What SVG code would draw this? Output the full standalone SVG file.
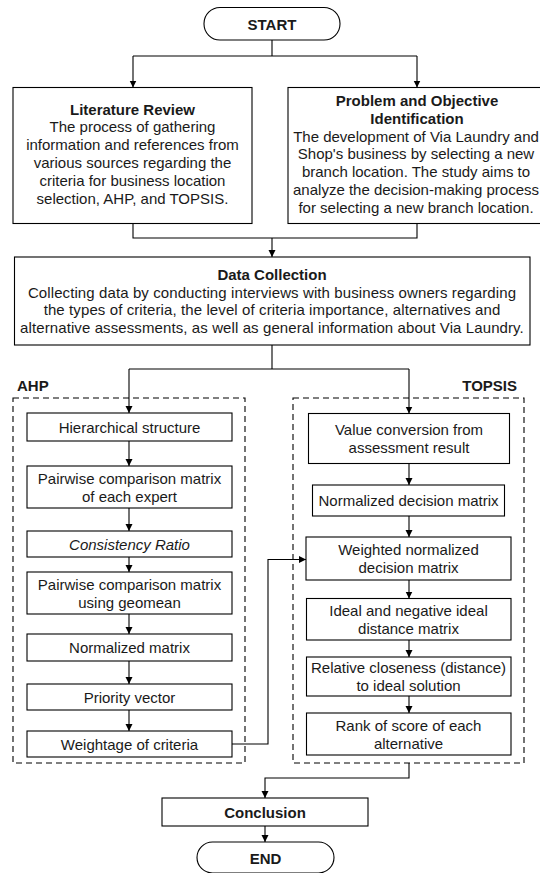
<svg xmlns="http://www.w3.org/2000/svg" width="540" height="873" viewBox="0 0 540 873">
<defs>
<marker id="ah" viewBox="0 0 10 10" refX="10" refY="5" markerWidth="7" markerHeight="8" markerUnits="userSpaceOnUse" orient="auto">
<path d="M0,0 L10,5 L0,10 z" fill="#000"/>
</marker>
<style>
.box{fill:#fff;stroke:#000;stroke-width:1.1}
.dash{fill:none;stroke:#000;stroke-width:1.1;stroke-dasharray:6,4}
.ln{fill:none;stroke:#000;stroke-width:1.1}
.arr{fill:none;stroke:#000;stroke-width:1.1;marker-end:url(#ah)}
text{font-family:"Liberation Sans",Arial,Helvetica,sans-serif;font-size:15px;fill:#1a1a1a;text-anchor:middle}
.b{font-weight:bold}
.i{font-style:italic}
.w{letter-spacing:0.1px}
</style>
</defs>
<rect width="540" height="873" fill="#fff"/>

<g id="connectors">
<path class="ln" d="M272,40 V56 M133,56 H417"/>
<path class="arr" d="M133,56 V87.5"/>
<path class="arr" d="M417,56 V87.5"/>
<path class="ln" d="M133,223.5 V238 H417 V223.5"/>
<path class="arr" d="M272,238 V257"/>
<path class="ln" d="M272,345 V369 M129,369 H409"/>
<path class="arr" d="M129,369 V413"/>
<path class="arr" d="M409,369 V413.5"/>
<path class="arr" d="M129,441 V466"/>
<path class="arr" d="M129,508 V531"/>
<path class="arr" d="M129,557 V572"/>
<path class="arr" d="M129,614 V634"/>
<path class="arr" d="M129,661 V684"/>
<path class="arr" d="M129,710 V731"/>
<path class="arr" d="M409,463.5 V485"/>
<path class="arr" d="M409,516 V537"/>
<path class="arr" d="M409,580 V598.5"/>
<path class="arr" d="M409,640 V657"/>
<path class="arr" d="M409,696 V713"/>
<path class="arr" d="M232,744 H268 V559.5 H306"/>
<path class="arr" d="M409,763 V778 H265 V798"/>
<path class="arr" d="M265,826 V842"/>
</g>

<g id="start">
<rect class="box" x="204" y="7.5" width="136" height="32.5" rx="16"/>
<text class="b" x="272" y="29.5">START</text>
</g>

<g id="literature">
<rect class="box" x="13" y="87.5" width="239" height="136"/>
<text class="b" x="132.5" y="114.5">Literature Review</text>
<text x="132.5" y="132.3">The process of gathering</text>
<text x="132.5" y="150.1">information and references from</text>
<text x="132.5" y="167.9">various sources regarding the</text>
<text x="132.5" y="185.7">criteria for business location</text>
<text x="132.5" y="203.5">selection, AHP, and TOPSIS.</text>
</g>

<g id="problem">
<rect class="box" x="288" y="87.5" width="262" height="136"/>
<text class="b" x="417" y="106">Problem and Objective</text>
<text class="b" x="417" y="123.8">Identification</text>
<text x="416" y="141.6">The development of Via Laundry and</text>
<text x="416" y="159.4">Shop's business by selecting a new</text>
<text x="416" y="177.2">branch location. The study aims to</text>
<text x="416" y="195">analyze the decision-making process</text>
<text x="416" y="212.8">for selecting a new branch location.</text>
</g>

<g id="data-collection">
<rect class="box" x="14.5" y="257" width="515.5" height="88"/>
<text class="b" x="272" y="279.5">Data Collection</text>
<text class="w" x="272" y="297.5">Collecting data by conducting interviews with business owners regarding</text>
<text class="w" x="272" y="315.3">the types of criteria, the level of criteria importance, alternatives and</text>
<text class="w" x="272" y="333">alternative assessments, as well as general information about Via Laundry.</text>
</g>

<g id="ahp">
<text class="b" x="17" y="391" style="text-anchor:start">AHP</text>
<rect class="dash" x="13" y="398" width="232" height="365"/>
</g>
<g id="topsis">
<text class="b" x="517" y="391" style="text-anchor:end">TOPSIS</text>
<rect class="dash" x="293" y="398" width="231" height="365"/>
</g>

<g id="hierarchical">
<rect class="box" x="27" y="413" width="205" height="28"/>
<text x="129.5" y="432.5">Hierarchical structure</text>
</g>
<g id="pairwise-expert">
<rect class="box" x="27" y="466" width="205" height="42"/>
<text x="129.5" y="483.5">Pairwise comparison matrix</text>
<text x="129.5" y="501.5">of each expert</text>
</g>
<g id="consistency">
<rect class="box" x="27" y="531" width="205" height="26"/>
<text class="i" x="129.5" y="549.5">Consistency Ratio</text>
</g>
<g id="pairwise-geomean">
<rect class="box" x="27" y="572" width="205" height="42"/>
<text x="129.5" y="589.5">Pairwise comparison matrix</text>
<text x="129.5" y="607.5">using geomean</text>
</g>
<g id="normalized-matrix">
<rect class="box" x="27" y="634" width="205" height="27"/>
<text x="129.5" y="653">Normalized matrix</text>
</g>
<g id="priority">
<rect class="box" x="27" y="684" width="205" height="26"/>
<text x="129.5" y="702.5">Priority vector</text>
</g>
<g id="weightage">
<rect class="box" x="27" y="731" width="205" height="26"/>
<text x="129.5" y="749.5">Weightage of criteria</text>
</g>

<g id="value-conversion">
<rect class="box" x="308.5" y="413.5" width="201" height="50"/>
<text x="409" y="435">Value conversion from</text>
<text x="409" y="453">assessment result</text>
</g>
<g id="normalized-decision">
<rect class="box" x="312.5" y="485" width="192" height="31"/>
<text x="408.5" y="506">Normalized decision matrix</text>
</g>
<g id="weighted">
<rect class="box" x="306" y="537" width="205" height="43"/>
<text x="408.5" y="555">Weighted normalized</text>
<text x="408.5" y="573">decision matrix</text>
</g>
<g id="ideal">
<rect class="box" x="306.5" y="598.5" width="204.5" height="41.5"/>
<text x="408.5" y="615.5">Ideal and negative ideal</text>
<text x="408.5" y="633.5">distance matrix</text>
</g>
<g id="relative">
<rect class="box" x="306.5" y="657" width="204.5" height="39"/>
<text x="408.5" y="673">Relative closeness (distance)</text>
<text x="408.5" y="691">to ideal solution</text>
</g>
<g id="rank">
<rect class="box" x="306.5" y="713" width="204.5" height="42"/>
<text x="408.5" y="730.5">Rank of score of each</text>
<text x="408.5" y="748.5">alternative</text>
</g>

<g id="conclusion">
<rect class="box" x="162" y="798" width="206" height="28"/>
<text class="b" x="265" y="817.5">Conclusion</text>
</g>
<g id="end">
<rect class="box" x="197" y="842" width="137" height="31" rx="15.5"/>
<text class="b" x="265.5" y="863.5">END</text>
</g>
</svg>
